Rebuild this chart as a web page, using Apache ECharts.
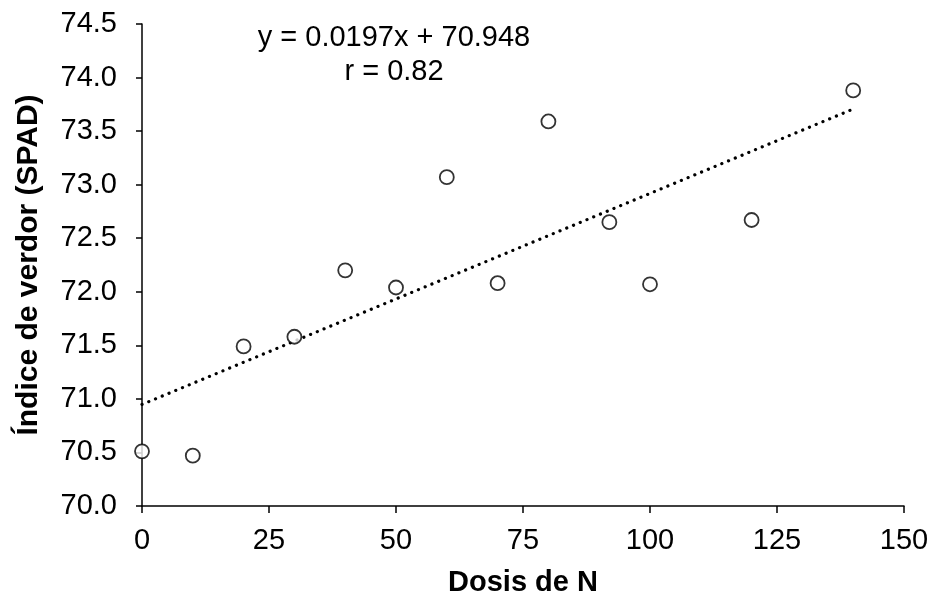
<!DOCTYPE html>
<html>
<head>
<meta charset="utf-8">
<script src="https://cdn.jsdelivr.net/npm/echarts@6/dist/echarts.min.js"></script>
<style>
  html, body { margin: 0; padding: 0; background: #fff; }
  #chart { width: 933px; height: 594px; }
</style>
</head>
<body>
<div id="chart"></div>
<script>
// datos
const dosisN = [0, 10, 20, 30, 40, 50, 60, 70, 80, 92, 100, 120, 140];
const spad = [70.51, 70.47, 71.49, 71.58, 72.20, 72.04, 73.07, 72.08, 73.59, 72.65, 72.07, 72.67, 73.88];
// extremos de la línea de tendencia y = 0.0197x + 70.948
const trendX = [0, 140];
const trendY = [70.948, 73.706];
const eqText = ['y = 0.0197x + 70.948', 'r = 0.82'];

const FONT = "'Liberation Sans', Arial, sans-serif";
const chart = echarts.init(document.getElementById('chart'));

const option = {
  animation: false,
  grid: {left: 142, right: 29, top: 24, bottom: 88, outerBoundsMode: 'none'},
  xAxis: {
    type: 'value',
    min: 0,
    max: 150,
    interval: 25,
    name: 'Dosis de N',
    nameLocation: 'middle',
    nameGap: 62,
    nameTextStyle: {color: '#000', fontSize: 29, fontWeight: 'bold', fontFamily: FONT},
    axisLine: {show: true, onZero: false, lineStyle: {color: '#000', width: 1.5}},
    axisTick: {show: true, inside: false, length: 7, lineStyle: {color: '#000', width: 1.5}},
    axisLabel: {color: '#000', fontSize: 29, fontFamily: FONT, margin: 20},
    splitLine: {show: false}
  },
  yAxis: {
    type: 'value',
    min: 70,
    max: 74.5,
    interval: 0.5,
    name: 'Índice de verdor (SPAD)',
    nameLocation: 'middle',
    nameGap: 98,
    nameTextStyle: {color: '#000', fontSize: 30, fontWeight: 'bold', fontFamily: FONT},
    axisLine: {show: true, lineStyle: {color: '#000', width: 1.5}},
    axisTick: {show: true, inside: false, length: 6, lineStyle: {color: '#000', width: 1.5}},
    axisLabel: {color: '#000', fontSize: 29, fontFamily: FONT, margin: 25, formatter: v => v.toFixed(1)},
    splitLine: {show: false}
  },
  graphic: [
    {
      type: 'text', x: 394, y: 23,
      style: {text: eqText[0], fill: '#000', font: '29px ' + FONT, align: 'center', verticalAlign: 'top'}
    },
    {
      type: 'text', x: 394, y: 57,
      style: {text: eqText[1], fill: '#000', font: '29px ' + FONT, align: 'center', verticalAlign: 'top'}
    }
  ],
  series: [
    {
      type: 'line',
      data: trendX.map((x, i) => [x, trendY[i]]),
      symbol: 'none',
      silent: true,
      z: 1,
      lineStyle: {color: '#000', width: 3.2, type: [0.1, 7.2], cap: 'round'}
    },
    {
      type: 'scatter',
      data: dosisN.map((x, i) => [x, spad[i]]),
      symbol: 'circle',
      symbolSize: 14,
      z: 2,
      itemStyle: {color: '#fff', borderColor: '#000', borderWidth: 1.8}
    }
  ]
};

chart.setOption(option);
</script>
</body>
</html>
